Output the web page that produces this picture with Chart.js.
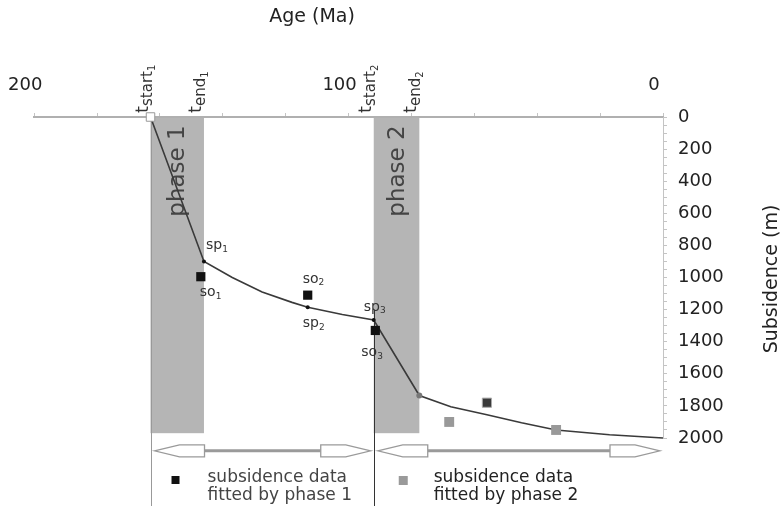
<!DOCTYPE html>
<html>
<head>
<meta charset="utf-8">
<script src="https://cdn.jsdelivr.net/npm/chart.js@4.4.0/dist/chart.umd.min.js"></script>
<style>
  html, body { margin: 0; padding: 0; background: #fff; }
  canvas { display: block; }
</style>
</head>
<body>
<canvas id="SubsidenceChart" width="782" height="506"></canvas>
<script>
var FONT = '"DejaVu Sans", sans-serif';

// モデル曲線 (年代 Ma, 沈降量 m)
var curveAge   = [163, 146, 137, 127.5, 118, 113, 102, 92, 77.5, 67.5, 56, 45, 34, 17, 0];
var curveDepth = [0, 900, 1000, 1090, 1155, 1185, 1230, 1265, 1735, 1805, 1855, 1905, 1950, 1980, 2000];

// 曲線上の sp 点
var spAge   = [146, 113, 92];
var spDepth = [900, 1185, 1265];
var spSubs  = ['1', '2', '3'];

// phase 1 で合わせた沈降データ (so)
var obs1Age   = [147, 113, 91.5];
var obs1Depth = [995, 1110, 1330];
var obs1Subs  = ['1', '2', '3'];

// phase 2 で合わせた沈降データ
var obs2Age   = [68, 34];
var obs2Depth = [1900, 1950];
var oddAge    = [56];
var oddDepth  = [1780];

// フェーズの期間
var phaseNames  = ['phase 1', 'phase 2'];
var phaseStart  = [163, 92];
var phaseEnd    = [146, 77.5];
var phaseBottom = 1970;
var arrowDepth  = 2080;

var ageLabelStep = 100;  // 上の軸の数字
var depthLabelStep = 200; // 右の軸の数字

function pts(xs, ys) {
  return xs.map(function (v, i) { return { x: v, y: ys[i] }; });
}

function subText(c, base, sub, x, y, size) {
  c.font = size + 'px ' + FONT;
  c.textAlign = 'left';
  c.textBaseline = 'middle';
  c.fillText(base, x, y);
  var w = c.measureText(base).width;
  c.font = Math.round(size * 0.65) + 'px ' + FONT;
  c.fillText(sub, x + w, y + 4);
}

function tLabel(c, px, py, sub, num) {
  c.save();
  c.translate(px - 3, py);
  c.rotate(-Math.PI / 2);
  c.fillStyle = '#333';
  c.textAlign = 'left';
  c.textBaseline = 'alphabetic';
  c.font = '18px ' + FONT;
  c.fillText('t', 0, 0);
  var w = c.measureText('t').width;
  c.font = '15px ' + FONT;
  c.fillText(sub, w, 4);
  var w2 = c.measureText(sub).width;
  c.font = '10px ' + FONT;
  c.fillText(num, w + w2, 7);
  c.restore();
}

function arrow(c, xl, xr, yy) {
  var L = 50, h = 6;
  c.strokeStyle = '#9a9a9a';
  c.lineWidth = 3;
  c.beginPath(); c.moveTo(xl + L, yy); c.lineTo(xr - L, yy); c.stroke();
  c.lineWidth = 1.3;
  c.fillStyle = '#fff';
  // 左向きの矢じり
  c.beginPath();
  c.moveTo(xl, yy); c.lineTo(xl + L * 0.5, yy - h); c.lineTo(xl + L, yy - h);
  c.lineTo(xl + L, yy + h); c.lineTo(xl + L * 0.5, yy + h); c.closePath();
  c.fill(); c.stroke();
  // 右向きの矢じり
  c.beginPath();
  c.moveTo(xr, yy); c.lineTo(xr - L * 0.5, yy - h); c.lineTo(xr - L, yy - h);
  c.lineTo(xr - L, yy + h); c.lineTo(xr - L * 0.5, yy + h); c.closePath();
  c.fill(); c.stroke();
}

var decor = {
  id: 'decor',
  beforeDatasetsDraw: function (chart) {
    var c = chart.ctx, x = chart.scales.x, y = chart.scales.y, a = chart.chartArea;
    c.save();
    for (var i = 0; i < phaseStart.length; i++) {
      var x0 = x.getPixelForValue(phaseStart[i]), x1 = x.getPixelForValue(phaseEnd[i]);
      c.fillStyle = '#b5b5b5';
      c.fillRect(x0, a.top + 1, x1 - x0, y.getPixelForValue(phaseBottom) - a.top - 1);
      c.save();
      c.translate((x0 + x1) / 2 + 1, a.top + 54);
      c.rotate(-Math.PI / 2);
      c.fillStyle = '#444';
      c.font = '23px ' + FONT;
      c.textAlign = 'center';
      c.textBaseline = 'middle';
      c.fillText(phaseNames[i], 0, 0);
      c.restore();
    }
    // 縦の区切り線
    var p1 = Math.round(x.getPixelForValue(phaseStart[0])) + 0.5;
    var p2 = Math.round(x.getPixelForValue(phaseStart[1])) + 0.5;
    c.lineWidth = 1;
    c.strokeStyle = '#999';
    c.beginPath(); c.moveTo(p1, a.top); c.lineTo(p1, chart.height); c.stroke();
    c.strokeStyle = '#333';
    c.beginPath(); c.moveTo(p2, y.getPixelForValue(1200)); c.lineTo(p2, chart.height); c.stroke();
    c.restore();
  },
  afterDatasetsDraw: function (chart) {
    var c = chart.ctx, x = chart.scales.x, y = chart.scales.y, a = chart.chartArea;
    c.save();
    c.fillStyle = '#333';
    var spOff = [[2, -16], [-5, 16], [-10, -13]];
    var soOff = [[-1, 16], [-5, -16], [-14, 22]];
    for (var i = 0; i < spAge.length; i++) {
      subText(c, 'sp', spSubs[i], x.getPixelForValue(spAge[i]) + spOff[i][0], y.getPixelForValue(spDepth[i]) + spOff[i][1], 14);
    }
    for (var j = 0; j < obs1Age.length; j++) {
      subText(c, 'so', obs1Subs[j], x.getPixelForValue(obs1Age[j]) + soOff[j][0], y.getPixelForValue(obs1Depth[j]) + soOff[j][1], 14);
    }
    // 上の t ラベル
    for (var k = 0; k < phaseStart.length; k++) {
      tLabel(c, x.getPixelForValue(phaseStart[k]), a.top - 4, 'start', String(k + 1));
      tLabel(c, x.getPixelForValue(phaseEnd[k]), a.top - 4, 'end', String(k + 1));
    }
    // 期間の矢印
    var yy = y.getPixelForValue(arrowDepth);
    for (var m = 0; m < phaseStart.length; m++) {
      var xl = x.getPixelForValue(phaseStart[m]) + 4;
      var xr = (m + 1 < phaseStart.length ? x.getPixelForValue(phaseStart[m + 1]) : a.right) - 3;
      arrow(c, xl, xr, yy);
    }
    // 凡例
    var lx1 = x.getPixelForValue(phaseStart[0]), lx2 = x.getPixelForValue(phaseStart[1]);
    var ly = a.bottom + 42;
    c.fillStyle = '#111';
    c.fillRect(lx1 + 21, ly - 4, 8, 8);
    c.fillStyle = '#9a9a9a';
    c.fillRect(lx2 + 25, ly - 4, 9, 9);
    c.font = '17px ' + FONT;
    c.textAlign = 'left';
    c.textBaseline = 'middle';
    c.fillStyle = '#444';
    c.fillText('subsidence data', lx1 + 57, ly - 2);
    c.fillText('fitted by phase 1', lx1 + 57, ly + 16);
    c.fillStyle = '#222';
    c.fillText('subsidence data', lx2 + 60, ly - 2);
    c.fillText('fitted by phase 2', lx2 + 60, ly + 16);
    // 軸タイトル
    c.font = '19px ' + FONT;
    c.textAlign = 'center';
    c.fillStyle = '#222';
    c.fillText('Age (Ma)', 312, 17);
    c.translate(772, 279);
    c.rotate(-Math.PI / 2);
    c.fillText('Subsidence (m)', 0, 0);
    c.restore();
  }
};

var ctx = document.getElementById('SubsidenceChart');

new Chart(ctx, {
  type: 'scatter',
  data: {
    datasets: [
      { data: pts(obs1Age, obs1Depth), pointStyle: 'rect', pointRadius: 6.5, backgroundColor: '#111', borderColor: '#111', borderWidth: 0, clip: false },
      { data: pts(obs2Age, obs2Depth), pointStyle: 'rect', pointRadius: 7, backgroundColor: '#999', borderColor: '#999', borderWidth: 0, clip: false },
      { data: pts(oddAge, oddDepth), pointStyle: 'rect', pointRadius: 6.5, backgroundColor: '#3a3a3a', borderColor: '#aaa', borderWidth: 1, clip: false },
      { data: pts(curveAge.slice(0, 1), curveDepth.slice(0, 1)), pointStyle: 'rect', pointRadius: 6, backgroundColor: '#fff', borderColor: '#999', borderWidth: 1, clip: false },
      { data: pts(curveAge.slice(8, 9), curveDepth.slice(8, 9)), pointRadius: 3, backgroundColor: '#777', borderWidth: 0, clip: false },
      { data: pts(spAge, spDepth), pointRadius: 2, backgroundColor: '#111', borderWidth: 0, clip: false },
      { data: pts(curveAge, curveDepth), showLine: true, borderColor: '#3a3a3a', borderWidth: 1.6, pointRadius: 0, clip: false }
    ]
  },
  options: {
    responsive: false,
    animation: false,
    events: [],
    layout: { padding: { left: 31, top: 0, right: 0, bottom: 68 } },
    plugins: { legend: { display: false }, tooltip: { enabled: false } },
    scales: {
      x: {
        type: 'linear', position: 'top', reverse: true, min: 0, max: 200,
        afterFit: function (s) { s.height = 117; },
        ticks: {
          stepSize: 20, autoSkip: false, maxRotation: 0, padding: 17, labelOffset: -9,
          color: '#222', font: { family: FONT, size: 18 },
          callback: function (v) { return v % ageLabelStep === 0 ? v : ''; }
        },
        grid: { drawOnChartArea: false, tickLength: 4, color: '#c4c4c4' },
        border: { color: '#b0b0b0', width: 2 }
      },
      y: {
        type: 'linear', position: 'right', reverse: true, min: 0, max: 2000,
        afterFit: function (s) { s.width = 119; },
        ticks: {
          stepSize: 50, autoSkip: false, padding: 11,
          color: '#222', font: { family: FONT, size: 18 },
          callback: function (v) { return v % depthLabelStep === 0 ? v : ''; }
        },
        grid: { drawOnChartArea: false, tickLength: 4, color: '#c4c4c4' },
        border: { color: '#c4c4c4', width: 1 }
      }
    }
  },
  plugins: [decor]
});
</script>
</body>
</html>
